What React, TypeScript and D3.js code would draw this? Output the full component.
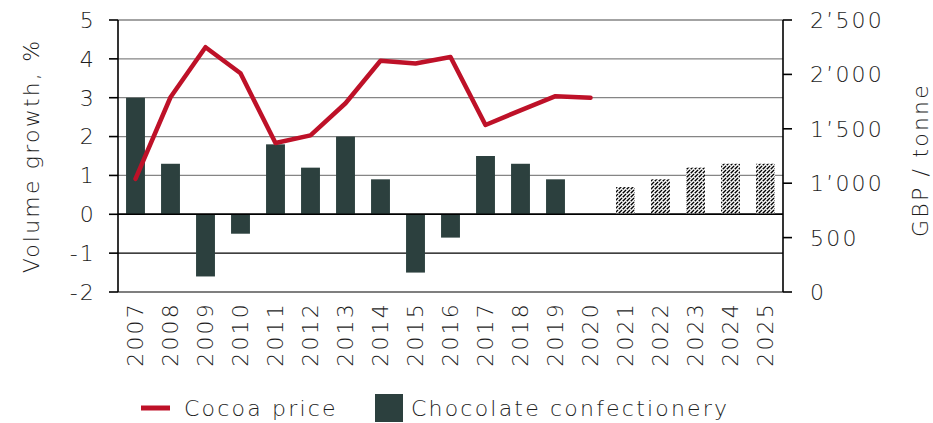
import React from "react";
import * as d3 from "d3";

const years = ["2007","2008","2009","2010","2011","2012","2013","2014","2015","2016","2017","2018","2019","2020","2021","2022","2023","2024","2025"];
const volumeGrowth: (number | null)[] = [3.0, 1.3, -1.6, -0.5, 1.8, 1.2, 2.0, 0.9, -1.5, -0.6, 1.5, 1.3, 0.9, null, null, null, null, null, null];
const forecastGrowth: (number | null)[] = [null, null, null, null, null, null, null, null, null, null, null, null, null, null, 0.7, 0.9, 1.2, 1.3, 1.3];
const cocoaPrice: (number | null)[] = [1040, 1790, 2250, 2010, 1370, 1440, 1735, 2125, 2100, 2160, 1535, 1670, 1800, 1785, null, null, null, null, null];
const leftTicks = [-2, -1, 0, 1, 2, 3, 4, 5];
const rightTicks = [0, 500, 1000, 1500, 2000, 2500];
const rightTickLabels = ["0", "500", "1\u2019000", "1\u2019500", "2\u2019000", "2\u2019500"];

const W = 933, H = 423;
const L = 118, R = 783, T = 20, B = 292;
const FONT = "'DejaVu Sans', sans-serif";
const FW = 200;
const LS = 2.2;
const FS = 22;
const BAR = "#2c403e";
const RED = "#be1128";
const TXT = "#1e1e1e";

export default function App() {
  const x = d3.scaleBand<string>().domain(years).range([L, R]).paddingInner(0.46).paddingOuter(0.23);
  const yL = d3.scaleLinear().domain([-2, 5]).range([B, T]);
  const yR = d3.scaleLinear().domain([0, 2500]).range([B, T]);
  const cx = (y: string) => (x(y) as number) + x.bandwidth() / 2;
  const line = d3.line<[string, number | null]>()
    .defined(d => d[1] != null)
    .x(d => cx(d[0]))
    .y(d => yR(d[1] as number));
  const lineData = years.map((y, i) => [y, cocoaPrice[i]] as [string, number | null]);

  return (
    <svg width={W} height={H} style={{ position: "absolute", left: 0, top: 0, background: "#fff" }}>
      <defs>
        <pattern id="hatch" patternUnits="userSpaceOnUse" width="4" height="4">
          <rect width="4" height="4" fill="#fff" />
          <path d="M-1,1 L1,-1 M0,4 L4,0 M3,5 L5,3" stroke="#000" strokeWidth="1.4" strokeDasharray="3 0.8" />
        </pattern>
      </defs>
      {leftTicks.map(t => (
        <line key={"g" + t} x1={L} x2={R} y1={yL(t)} y2={yL(t)}
          stroke={t > 0 ? "#858585" : t === -2 ? "#555" : "#000"} strokeWidth={t === 0 ? 1.6 : 1.3} />
      ))}
      {years.map((y, i) => {
        const v = volumeGrowth[i];
        if (v == null) return null;
        return <rect key={"b" + y} x={x(y)} width={x.bandwidth()} y={yL(Math.max(0, v))} height={Math.abs(yL(v) - yL(0))} fill={BAR} />;
      })}
      {years.map((y, i) => {
        const v = forecastGrowth[i];
        if (v == null) return null;
        return <rect key={"f" + y} x={x(y)} width={x.bandwidth()} y={yL(Math.max(0, v))} height={Math.abs(yL(v) - yL(0))} fill="url(#hatch)" />;
      })}
      <line x1={L} x2={R} y1={yL(0)} y2={yL(0)} stroke="#000" strokeWidth={1.6} />
      <path d={line(lineData) || ""} fill="none" stroke={RED} strokeWidth={4.5} strokeLinejoin="round" strokeLinecap="round" />
      <line x1={L} x2={L} y1={T} y2={B} stroke="#000" strokeWidth={1.6} />
      {leftTicks.map(t => (
        <g key={"lt" + t}>
          <line x1={L - 9} x2={L} y1={yL(t)} y2={yL(t)} stroke="#000" strokeWidth={1.6} />
          <text x={L - 22} y={yL(t)} dy="0.36em" textAnchor="end" fontFamily={FONT} fontWeight={FW} fontSize={FS} letterSpacing={LS} fill={TXT}>{t}</text>
        </g>
      ))}
      <line x1={R} x2={R} y1={T} y2={B} stroke="#000" strokeWidth={1.6} />
      {rightTicks.map((t, i) => (
        <g key={"rt" + t}>
          <line x1={R} x2={R + 9} y1={yR(t)} y2={yR(t)} stroke="#000" strokeWidth={1.6} />
          <text x={R + 27} y={yR(t)} dy="0.36em" textAnchor="start" fontFamily={FONT} fontWeight={FW} fontSize={FS} letterSpacing={LS} fill={TXT}>{rightTickLabels[i]}</text>
        </g>
      ))}
      {years.map(y => (
        <text key={"x" + y} transform={`translate(${cx(y)},${B + 10}) rotate(-90)`} dy="0.36em" textAnchor="end"
          fontFamily={FONT} fontWeight={FW} fontSize={FS} letterSpacing={LS} fill={TXT}>{y}</text>
      ))}
      <text transform={`translate(39,156) rotate(-90)`} textAnchor="middle" fontFamily={FONT} fontWeight={FW} fontSize={FS} letterSpacing={LS} fill={TXT}>Volume growth, %</text>
      <text transform={`translate(928,160) rotate(-90)`} textAnchor="middle" fontFamily={FONT} fontWeight={FW} fontSize={FS} letterSpacing={LS} fill={TXT}>GBP / tonne</text>
      <line x1={141} x2={170} y1={408} y2={408} stroke={RED} strokeWidth={5} />
      <text x={184} y={408} dy="0.36em" fontFamily={FONT} fontWeight={FW} fontSize={FS} letterSpacing={LS} fill={TXT}>Cocoa price</text>
      <rect x={375} y={394} width={28} height={28} fill={BAR} />
      <text x={411} y={408} dy="0.36em" fontFamily={FONT} fontWeight={FW} fontSize={FS} letterSpacing={LS} fill={TXT}>Chocolate confectionery</text>
    </svg>
  );
}
